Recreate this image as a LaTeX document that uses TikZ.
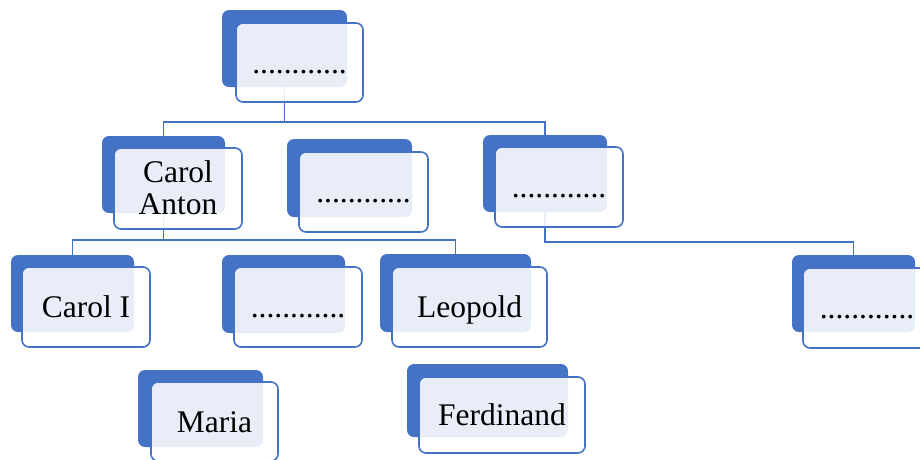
\documentclass[tikz,border=0pt]{standalone}
\usepackage{fontspec}
\setmainfont{Liberation Serif}
\usetikzlibrary{calc}
\definecolor{blueC}{HTML}{4472C4}
\begin{document}
\begin{tikzpicture}[x=1pt,y=-1pt,
  backbox/.style={fill=blueC, draw=none, rounded corners=7pt, inner sep=0pt, outer sep=0pt},
  frontbox/.style={fill=white, fill opacity=0.88, text opacity=1, draw=blueC, line width=1.6pt,
     rounded corners=7pt, inner sep=0pt, outer sep=0pt, text height=21pt, text depth=0pt,
     font=\fontsize{31.5}{32}\selectfont},
  txt/.style={inner sep=0pt, outer sep=0pt, font=\fontsize{31.5}{32}\selectfont},
  conn/.style={draw=blueC, line width=1.8pt}]
\useasboundingbox (0,0) rectangle (920,459);
\clip (0,0) rectangle (920,459);
% back boxes
\newcommand{\bk}[5]{\node[backbox, minimum width={#4-#2}, minimum height={#5-#3}] (#1) at ({(#2+#4)/2},{(#3+#5)/2}) {};}
\bk{topB}{222}{10}{347}{87}
\bk{caB}{102}{136}{225}{213}
\bk{midB}{287}{139}{412}{217}
\bk{rB}{483}{135}{607}{212}
\bk{ciB}{11}{255}{134}{332}
\bk{m3B}{222}{255}{345}{333}
\bk{leoB}{380}{254}{531}{332}
\bk{rbB}{792}{255}{915}{332}
\bk{maB}{138}{370}{263}{447}
\bk{feB}{407}{364}{568}{437}
% connectors
\coordinate (bar1) at ($(topB.south)+(0,35)$);
\coordinate (bar2) at ($(caB.south)+(0,27)$);
\coordinate (bar3) at ($(rB.south)+(0,30)$);
\draw[conn] (topB.south) -- (bar1) -| (caB.north);
\draw[conn] (bar1) -| (rB.north);
\draw[conn] (caB.south) -- (bar2) -| (ciB.north);
\draw[conn] (bar2) -| (leoB.north);
\draw[conn] (rB.south) -- (bar3) -| (rbB.north);
% front boxes
\newcommand{\fr}[6]{\node[frontbox, minimum width={#4-#2}, minimum height={#5-#3}] (#1) at ({(#2+#4)/2},{(#3+#5)/2}) {#6};}
\fr{topF}{236}{23}{363}{102}{............}
\fr{caF}{114}{148}{242}{229}{}
\fr{midF}{299}{152}{428}{232}{............}
\fr{rF}{495}{147}{623}{227}{............}
\fr{ciF}{22}{267}{150}{347}{Carol I}
\fr{m3F}{234}{267}{362}{347}{............}
\fr{leoF}{392}{267}{547}{347}{Leopold}
\fr{rbF}{803}{268}{931}{348}{............}
\fr{maF}{151}{382}{278}{461}{Maria}
\fr{feF}{419}{377}{585}{453}{Ferdinand}
\node[txt, align=center, anchor=north] (caT) at (178,160.5) {Carol\\Anton};
\end{tikzpicture}
\end{document}
